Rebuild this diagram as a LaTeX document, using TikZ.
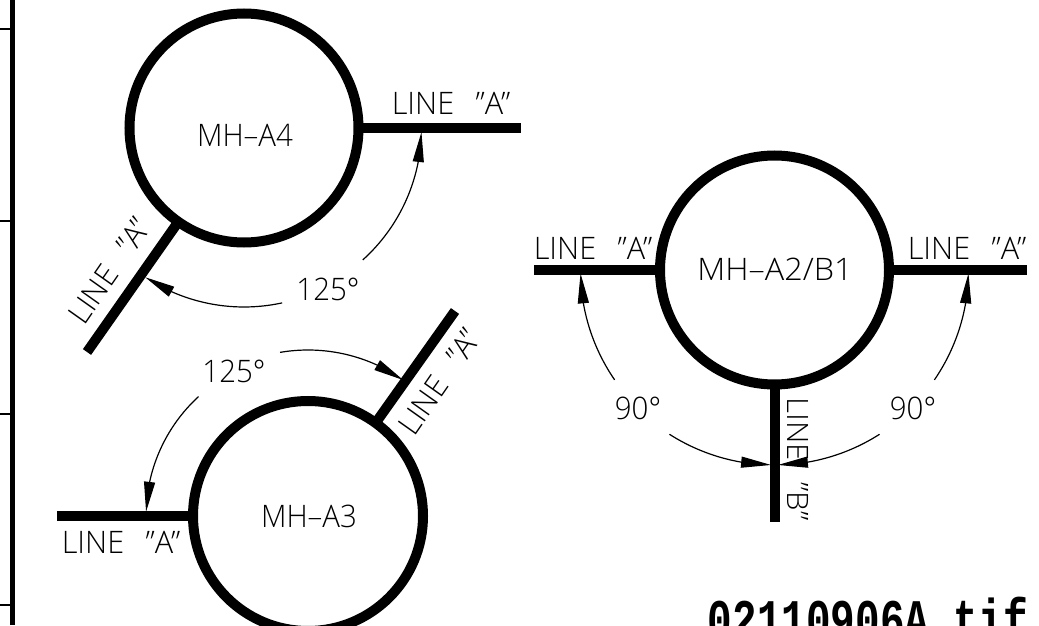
\documentclass[tikz,border=0pt]{standalone}
\usepackage{fontspec}
\setmainfont{Liberation Sans}
\newfontfamily\cadfont{Open Sans Light}
\newfontfamily\namefont{Liberation Mono}
\usetikzlibrary{arrows.meta,bending}
\newcommand{\gapp}{\hspace{0.7em}}
\tikzset{
  manhole/.style={circle,draw,line width=10pt,inner sep=0pt,outer sep=0pt,minimum size=#1},
  pipe/.style={line width=10pt,line cap=butt},
  dimarc/.style={line width=1.2pt,-{Triangle[length=30pt,width=11pt,flex]}},
  cadtext/.style={inner sep=0pt,font=\cadfont\fontsize{31}{31}\selectfont,xscale=0.95,transform shape},
  linetext/.style={cadtext,xscale=1.04},
  frame/.style={line width=5pt},
  tick/.style={line width=2pt}
}
\begin{document}
\begin{tikzpicture}[x=1pt,y=1pt]
\useasboundingbox (0,0) rectangle (1039,625);
\clip (0,0) rectangle (1039,625);
% y = 625 - pixel y
\coordinate (ft) at (12,625); \coordinate (fb) at (12,0);
\draw[frame] (fb) -- (ft);
\foreach \y in {29,221,414,605}{\draw[tick] (0,625-\y) -- (10,625-\y);}
% manholes
\node[manhole=229pt] (a4) at (244,497) {};
\node[manhole=230pt] (a3) at (308,109) {};
\node[manhole=229pt] (a2) at (774.5,355) {};
% pipes
\coordinate (a4r) at (521,497);
\coordinate (a4l) at (87,273);
\coordinate (a3u) at (455,314);
\coordinate (a3l) at (57,109);
\coordinate (a2l) at (534,355);
\coordinate (a2r) at (1027,355);
\coordinate (a2d) at (774.5,103);
\draw[pipe] (a4.0) -- (a4r);
\draw[pipe] (a4.235) -- (a4l);
\draw[pipe] (a3.54.5) -- (a3u);
\draw[pipe] (a3.180) -- (a3l);
\draw[pipe] (a2.180) -- (a2l);
\draw[pipe] (a2.0) -- (a2r);
\draw[pipe] (a2.270) -- (a2d);
% angle arcs
\draw[dimarc] (a4) ++(-48:177.5pt) arc[start angle=-48,end angle=-1.3,radius=177.5pt];
\draw[dimarc] (a4) ++(-77.7:179pt) arc[start angle=-77.7,end angle=-123.5,radius=179pt];
\draw[dimarc] (a3) ++(99.7:166pt) arc[start angle=99.7,end angle=55,radius=166pt];
\draw[dimarc] (a3) ++(132.5:162pt) arc[start angle=132.5,end angle=178.5,radius=162pt];
\draw[dimarc] (a2) ++(214.5:194pt) arc[start angle=214.5,end angle=181,radius=194pt];
\draw[dimarc] (a2) ++(-34.5:194pt) arc[start angle=-34.5,end angle=-1,radius=194pt];
\draw[dimarc] (a2) ++(237.4:195pt) arc[start angle=237.4,end angle=269,radius=195pt];
\draw[dimarc] (a2) ++(302.6:195pt) arc[start angle=302.6,end angle=271,radius=195pt];
% labels
\node[cadtext] (ta4) at (245,490) {MH–A4};
\node[cadtext] (ta3) at (309,109) {MH–A3};
\node[cadtext,xscale=1.1] (ta2) at (775,356) {MH–A2/B1};
\node[linetext] (l1) at (451,522) {LINE\gapp”A”};
\node[linetext,rotate=55] (l2) at (109,354) {LINE\gapp”A”};
\node[linetext,rotate=55] (l3) at (439,243) {LINE\gapp”A”};
\node[linetext] (l4) at (121,83) {LINE\gapp”A”};
\node[linetext] (l5) at (593,377) {LINE\gapp”A”};
\node[linetext] (l6) at (967,377) {LINE\gapp”A”};
\node[cadtext,rotate=-90] (l7) at (798,166) {LINE\gapp”B”};
\node[cadtext] (d1) at (328,336) {125°};
\node[cadtext] (d2) at (234,254) {125°};
\node[cadtext] (d3) at (638,217) {90°};
\node[cadtext] (d4) at (913,217) {90°};
\node[inner sep=0pt,anchor=base east,font=\namefont\fontsize{41}{41}\selectfont\bfseries,yscale=1.4,transform shape] (fn) at (1028,-14) {02110906A.tif};
\end{tikzpicture}
\end{document}
